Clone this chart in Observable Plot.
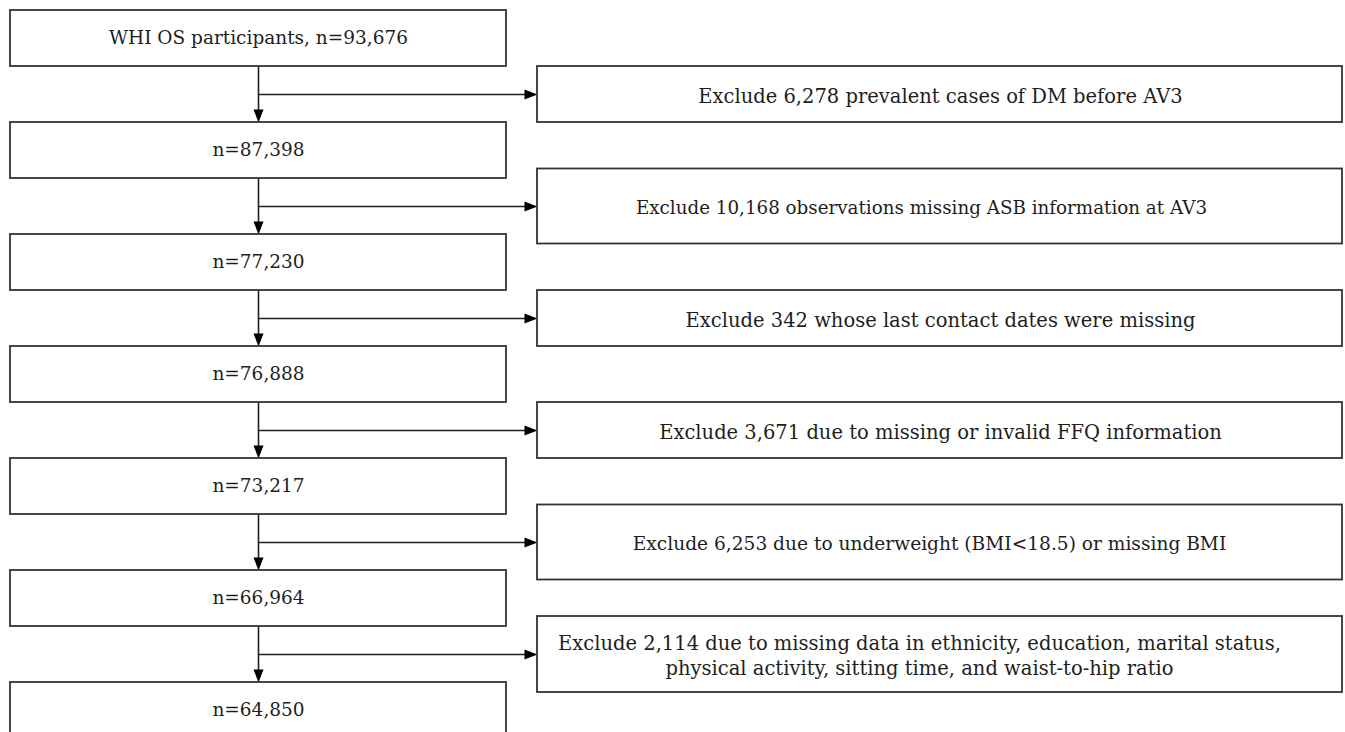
<!DOCTYPE html>
<html>
<head>
<meta charset="utf-8">
<script src="https://cdn.jsdelivr.net/npm/d3@7"></script>
<script src="https://cdn.jsdelivr.net/npm/@observablehq/plot@0.6"></script>
<style>
  html, body { margin: 0; padding: 0; background: #fff; overflow: hidden; }
  #chart svg { display: block; }
</style>
</head>
<body>
<div id="chart"></div>
<script>
// ---- data ----
const stepLabels = [
  "WHI OS participants, n=93,676",
  "n=87,398",
  "n=77,230",
  "n=76,888",
  "n=73,217",
  "n=66,964",
  "n=64,850"
];
const excludeLabels = [
  "Exclude 6,278 prevalent cases of DM before AV3",
  "Exclude 10,168 observations missing ASB information at AV3",
  "Exclude 342 whose last contact dates were missing",
  "Exclude 3,671 due to missing or invalid FFQ information",
  "Exclude 6,253 due to underweight (BMI<18.5) or missing BMI",
  "Exclude 2,114 due to missing data in ethnicity, education, marital status,\nphysical activity, sitting time, and waist-to-hip ratio"
];

// ---- layout ----
const W = 1345, H = 732;
const step = 112, top0 = 10, boxH = 56;
const leftX1 = 10, leftX2 = 506, midX = 258;
const rightX1 = 537, rightX2 = 1342;
const rightH = [56, 75, 56, 56, 75, 76];
const rightTextX = [940, 921, 940, 940, 929, 919];
const rightFont = [19.5, 18.3, 19.5, 19.5, 18.6, 19.5];
const headLen = 13, headHalf = 5;

const left = stepLabels.map((label, i) => ({
  label, y1: top0 + i * step, y2: top0 + i * step + boxH
}));
const right = excludeLabels.map((label, i) => {
  const cy = top0 + boxH + i * step + (step - boxH) / 2;
  return { label, cy, tx: rightTextX[i], fs: rightFont[i], y1: cy - rightH[i] / 2, y2: cy + rightH[i] / 2 };
});
const links = right.map((r, i) => ({
  yTop: left[i].y2, yBottom: left[i + 1].y1, cy: r.cy
}));

const downHead = { draw(ctx) { ctx.moveTo(0, 0); ctx.lineTo(-headHalf, -headLen); ctx.lineTo(headHalf, -headLen); ctx.closePath(); } };
const rightHead = { draw(ctx) { ctx.moveTo(0, 0); ctx.lineTo(-headLen, -headHalf); ctx.lineTo(-headLen, headHalf); ctx.closePath(); } };

const font = "DejaVu Serif";
const ink = "#1e1e1e";

const chart = Plot.plot({
  width: W, height: H,
  margin: 0,
  x: { domain: [0, W], range: [0, W], axis: null },
  y: { domain: [0, H], range: [0, H], axis: null },
  style: { background: "white" },
  marks: [
    // connectors
    Plot.ruleX(links, { x: () => midX, y1: "yTop", y2: d => d.yBottom - headLen + 1, stroke: ink, strokeWidth: 1.6 }),
    Plot.ruleY(links, { y: "cy", x1: () => midX, x2: () => rightX1 - headLen + 1, stroke: ink, strokeWidth: 1.6 }),
    Plot.dot(links, { x: () => midX, y: "yBottom", symbol: downHead, fill: "#000", stroke: "none", r: 6 }),
    Plot.dot(links, { x: () => rightX1, y: "cy", symbol: rightHead, fill: "#000", stroke: "none", r: 6 }),
    // boxes
    Plot.rect(left, { x1: () => leftX1, x2: () => leftX2, y1: "y1", y2: "y2", fill: "white", stroke: "#333", strokeWidth: 1.8 }),
    Plot.rect(right, { x1: () => rightX1, x2: () => rightX2, y1: "y1", y2: "y2", fill: "white", stroke: "#333", strokeWidth: 1.8 }),
    // labels
    Plot.text(left, { x: () => midX, y: d => (d.y1 + d.y2) / 2, text: "label", fontFamily: font, fontSize: 18.5, fill: ink }),
    Plot.text(right, { x: "tx", y: "cy", text: "label", fontFamily: font, fontSize: d => d.fs, fill: ink, lineHeight: 1.3 })
  ]
});
document.getElementById("chart").appendChild(chart);
</script>
</body>
</html>
